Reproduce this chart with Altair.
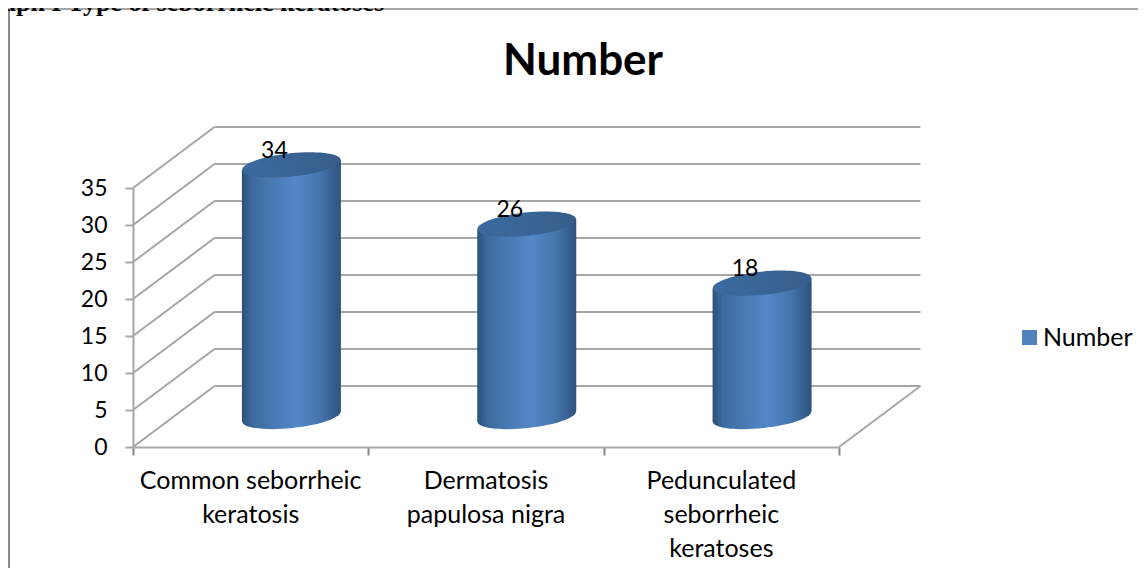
import altair as alt
import pandas as pd

# --- values ---
categories = ["Common seborrheic\nkeratosis", "Dermatosis\npapulosa nigra", "Pedunculated\nseborrheic\nkeratoses"]
values = [34, 26, 18]
series_name = "Number"
y_ticks = [0, 5, 10, 15, 20, 25, 30, 35]
x_ticks = [0, 1, 2, 3]
heading = "Graph I Type of seborrheic keratoses"

# --- geometry of the fake 3-D box, in data units ---
PW, PH = 706, 259
DEPTH_X = 81.5 / (PW / 3)
DEPTH_Y = 61 / (PH / 35)
HALF_W = 49.5 / (PW / 3)
TILT = 0.7
FONT = "Lato"
FS = 25
FS_NUM = 23

x_scale = alt.Scale(domain=[0, 3], nice=False, zero=False)
y_scale = alt.Scale(domain=[0, 35], nice=False, zero=False)
AX = "#a6a6a6"

y_axis = alt.Axis(values=y_ticks, grid=False, domainColor=AX, domainWidth=2, tickColor=AX, tickWidth=2,
                  tickSize=8, labelFont=FONT, labelFontSize=FS_NUM, labelColor="black", labelPadding=18, title=None)
x_axis = alt.Axis(values=x_ticks, grid=False, domainColor=AX, domainWidth=2, tickColor="#868686", tickWidth=2,
                  tickSize=8, labels=False, title=None)


def X(f):
    return alt.X(f, type="quantitative", scale=x_scale, axis=x_axis)


def Y(f):
    return alt.Y(f, type="quantitative", scale=y_scale, axis=y_axis)


rows = []
for v in y_ticks:
    rows.append(dict(x0=DEPTH_X, x1=3 + DEPTH_X, y0=v + DEPTH_Y, y1=v + DEPTH_Y))
    rows.append(dict(x0=0, x1=DEPTH_X, y0=v, y1=v + DEPTH_Y))
rows.append(dict(x0=3, x1=3 + DEPTH_X, y0=0, y1=DEPTH_Y))
grid_df = pd.DataFrame(rows)

centers = [i + 0.5 + DEPTH_X / 2 for i in range(3)]
bars_df = pd.DataFrame(dict(
    cat=categories, value=values, cx=centers,
    top=[v + DEPTH_Y / 2 for v in values],
    base=[DEPTH_Y / 2] * 3,
    series=[series_name] * 3,
))
body_rows = []
for c, v, cx in zip(categories, values, centers):
    body_rows.append(dict(cat=c, x=cx - HALF_W, y=v + DEPTH_Y / 2 - TILT, y2=DEPTH_Y / 2 - TILT))
    body_rows.append(dict(cat=c, x=cx + HALF_W, y=v + DEPTH_Y / 2 + TILT, y2=DEPTH_Y / 2 + TILT))
body_df = pd.DataFrame(body_rows)

labels_df = pd.DataFrame(dict(cat=categories, x=[i + 0.5 for i in range(3)]))

cyl_gradient = alt.LinearGradient(
    gradient="linear", x1=0, x2=1, y1=0, y2=0,
    stops=[
        alt.GradientStop(offset=0, color="#2b5079"),
        alt.GradientStop(offset=0.1, color="#3c6a9d"),
        alt.GradientStop(offset=0.3, color="#4879b2"),
        alt.GradientStop(offset=0.55, color="#5487c7"),
        alt.GradientStop(offset=0.8, color="#4474ab"),
        alt.GradientStop(offset=1, color="#2e527c"),
    ],
)
top_gradient = alt.LinearGradient(
    gradient="linear", x1=0, x2=1, y1=0, y2=0,
    stops=[
        alt.GradientStop(offset=0, color="#3c6a9e"),
        alt.GradientStop(offset=1, color="#375e8c"),
    ],
)
ELLIPSE = "M-1,0A1,0.235,0,1,1,1,0A1,0.235,0,1,1,-1,0Z"
ELL_SIZE = 99 ** 2

frame = alt.Chart(pd.DataFrame({"a": [0]}))

grid = alt.Chart(grid_df).mark_rule(color=AX, strokeWidth=2).encode(
    x=X("x0:Q"), x2="x1:Q", y=Y("y0:Q"), y2="y1:Q")

bottom = alt.Chart(bars_df).mark_point(
    shape=ELLIPSE, size=ELL_SIZE, filled=True, fill=cyl_gradient, opacity=1, angle=354, strokeWidth=0
).encode(x=X("cx:Q"), y=Y("base:Q"))

body = alt.Chart(body_df).mark_area(fill=cyl_gradient, opacity=1).encode(
    x=X("x:Q"), y=Y("y:Q"), y2="y2:Q", detail="cat:N")

top = alt.Chart(bars_df).mark_point(
    shape=ELLIPSE, size=ELL_SIZE, filled=True, fill=top_gradient, opacity=1, angle=354, strokeWidth=0
).encode(x=X("cx:Q"), y=Y("top:Q"))

value_text = alt.Chart(bars_df).mark_text(
    font=FONT, fontSize=FS_NUM, color="black", dx=-17, dy=-14, baseline="middle"
).encode(x=X("cx:Q"), y=Y("top:Q"), text="value:Q")

cat_text = alt.Chart(labels_df).mark_text(
    font=FONT, fontSize=FS, color="black", baseline="top", lineBreak="\n", lineHeight=34, align="center"
).encode(x=X("x:Q"), y=alt.value(PH + 22), text="cat:N")

legend_layer = alt.Chart(bars_df).mark_square(opacity=0).encode(
    x=X("cx:Q"), y=Y("top:Q"),
    color=alt.Color("series:N", scale=alt.Scale(range=["#4f81bd"]), legend=alt.Legend(
        title=None, orient="none", legendX=884, legendY=137, symbolType="square", symbolSize=225,
        symbolOpacity=1, symbolStrokeWidth=0, labelFont=FONT, labelFontSize=FS, labelColor="black",
        labelOffset=1)),
)

head_text = frame.mark_text(
    text=heading, font="Liberation Serif", fontWeight="bold", fontSize=26, align="right", color="black"
).encode(x=alt.value(251), y=alt.value(-185))

title_text = frame.mark_text(
    text=series_name, font=FONT, fontSize=44, fontWeight="bold", align="center", baseline="middle", color="black"
).encode(x=alt.value(450), y=alt.value(-126))

border_left = frame.mark_rule(color="#8a8a8a", strokeWidth=2).encode(
    x=alt.value(-124), y=alt.value(-179), y2=alt.value(388))
border_top = frame.mark_rule(color="#8a8a8a", strokeWidth=1.5).encode(
    y=alt.value(-179), x=alt.value(-125), x2=alt.value(1013))

chart = alt.layer(
    border_left, border_top, head_text, title_text, grid, bottom, body, top, value_text, cat_text, legend_layer
).properties(
    width=PW, height=PH,
    autosize=alt.AutoSizeParams(type="none"),
    padding={"left": 125, "top": 180, "right": 299, "bottom": 121},
    background="white",
).configure_view(stroke=None)

chart.save("out.html", embed_options={"renderer": "svg", "actions": False})
